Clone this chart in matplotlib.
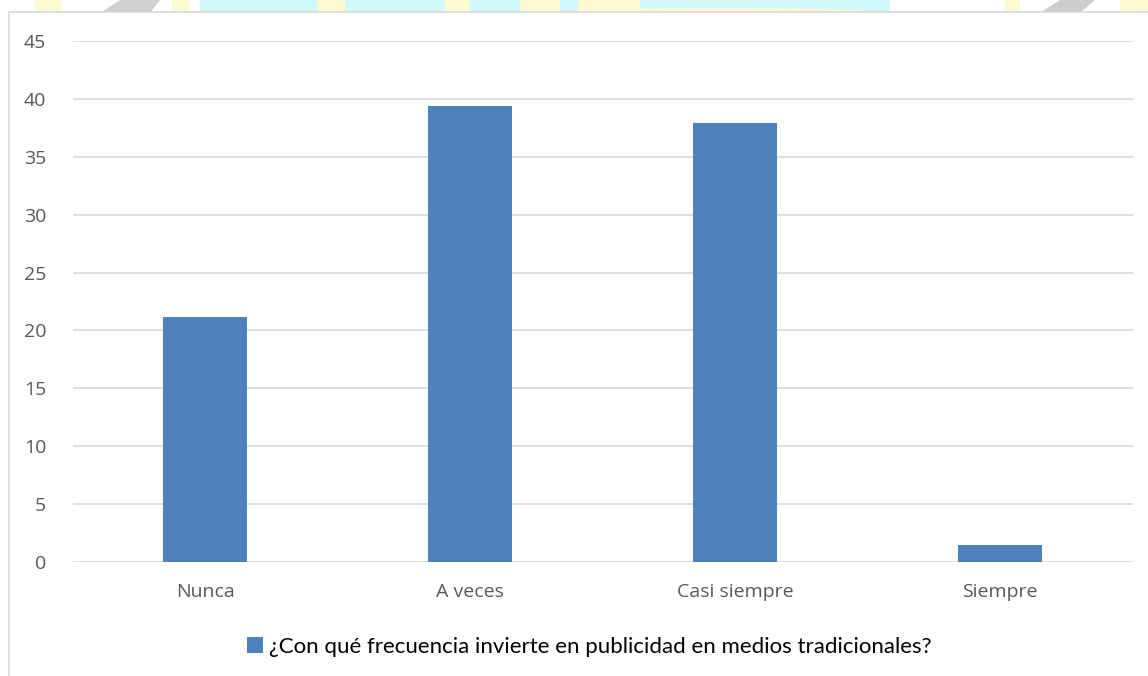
import matplotlib
matplotlib.use("Agg")
import matplotlib.pyplot as plt
from matplotlib.patches import Rectangle, Polygon, Ellipse

categorias = ["Nunca", "A veces", "Casi siempre", "Siempre"]
porcentajes = [21.2, 39.4, 37.9, 1.5]
serie = "¿Con qué frecuencia invierte en publicidad en medios tradicionales?"
yticks = [0, 5, 10, 15, 20, 25, 30, 35, 40, 45]

W, H = 1148, 676
plt.rcParams["font.family"] = ["Lato", "DejaVu Sans"]

fig = plt.figure(figsize=(W / 100, H / 100), dpi=100)
fig.patch.set_facecolor("white")

# faded logo strip behind the top edge of the chart box
top = fig.add_axes([0, 0, 1, 1], zorder=-5)
top.set_xlim(0, W)
top.set_ylim(H, 0)
top.axis("off")
top.add_patch(Rectangle((200, 0), 690, 13, color="#d4f9fc", lw=0))
for x0, x1 in [(35, 62), (172, 190), (318, 345), (445, 470), (520, 560), (578, 640), (1005, 1020), (1120, 1148)]:
    top.add_patch(Rectangle((x0, 0), x1 - x0, 13, color="#fdfbd2", lw=0))
top.add_patch(Ellipse((720, 14), 340, 12, color="#fdfbd2", lw=0))
top.add_patch(Polygon([(100, 13), (120, 0), (160, 0), (150, 13)], color="#d0d0d0", lw=0))
top.add_patch(Polygon([(1040, 13), (1060, 0), (1095, 0), (1080, 13)], color="#cdcdcd", lw=0))
top.add_patch(Rectangle((9, 12), W, H, facecolor="white", edgecolor="#d9d9d9", lw=1.2))

ax = fig.add_axes([72.5 / W, 114 / H, 1060 / W, 521 / H])
ax.set_facecolor("none")
x = range(len(categorias))
barras = ax.bar(x, porcentajes, width=0.317, color="#4f81bd", label=serie, zorder=3)

ax.set_xlim(-0.5, 3.5)
ax.set_ylim(0, 45)
ax.set_yticks(yticks)
ax.set_xticks(list(x))
ax.set_xticklabels(categorias)
ax.yaxis.grid(True, color="#d9d9d9", lw=1.2, zorder=0)
for s in ax.spines.values():
    s.set_visible(False)
ax.tick_params(axis="both", length=0, labelsize=14, labelcolor="#595959")
for lbl in ax.get_xticklabels() + ax.get_yticklabels():
    lbl.set_family(["Open Sans", "DejaVu Sans"])
ax.tick_params(axis="y", pad=19)
ax.tick_params(axis="x", pad=15)

fig.legend(handles=[barras], loc="center", bbox_to_anchor=(589.5 / W, 1 - 647 / H),
           frameon=False, fontsize=16, handlelength=0.7, handleheight=0.7,
           handletextpad=0.3, labelcolor="#000000")

fig.savefig("out.png", dpi=100)
